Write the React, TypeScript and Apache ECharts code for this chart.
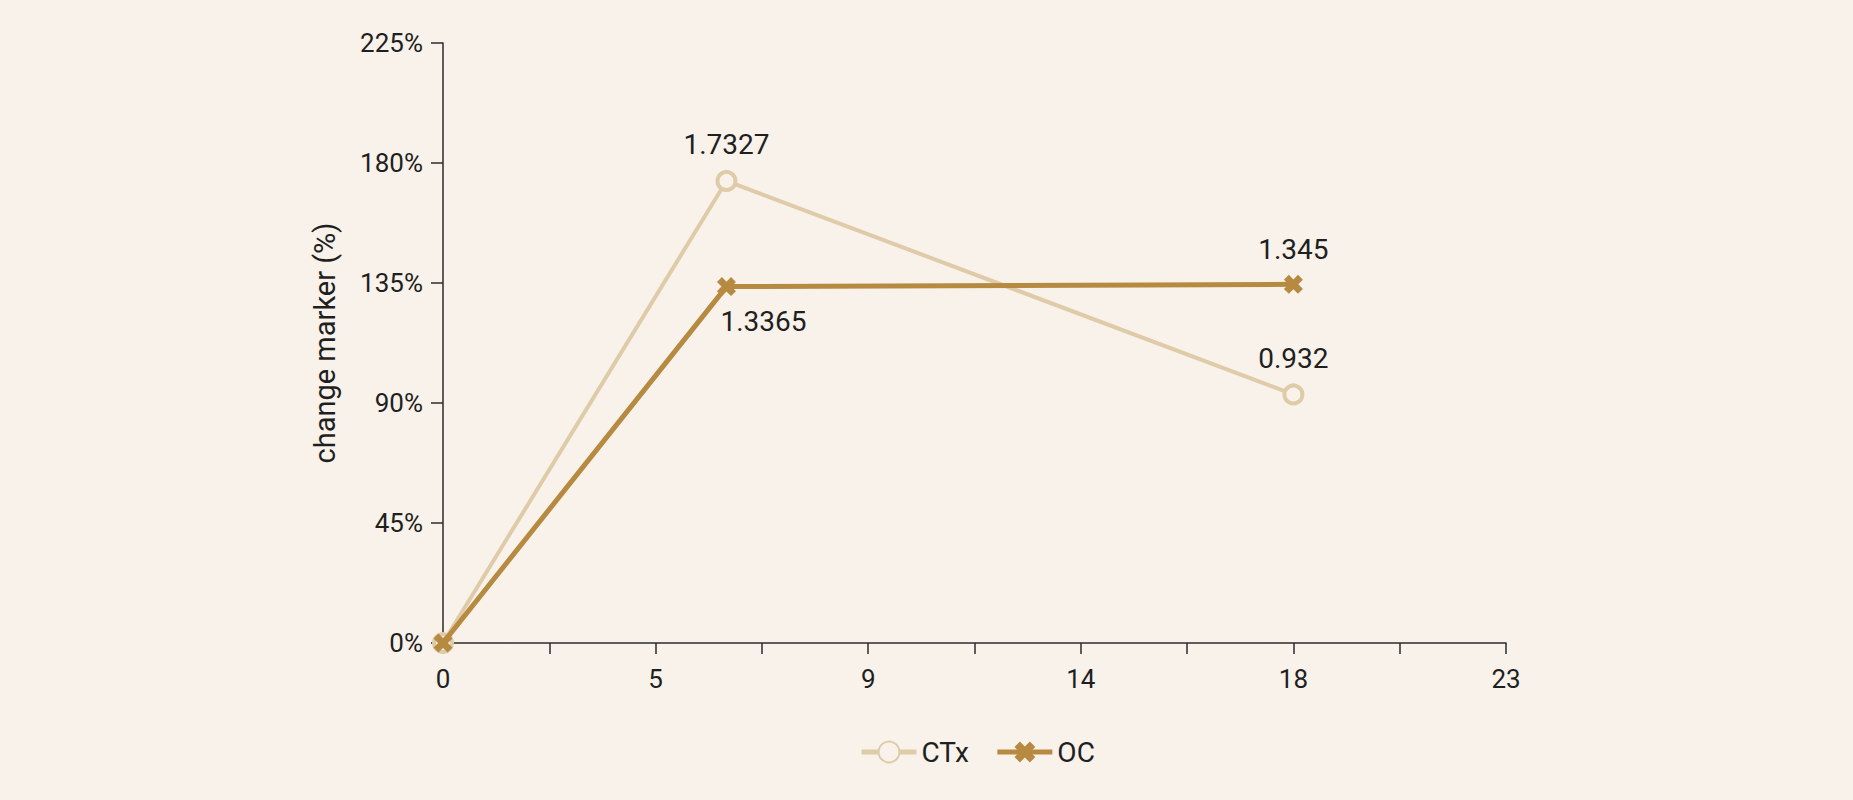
import { useEffect, useRef } from 'react';
import * as echarts from 'echarts';

const weeks = [0, 6, 18];
const ctxValues = [0, 1.7327, 0.932];
const ocValues = [0, 1.3365, 1.345];
const seriesNames = ['CTx', 'OC'];

const BG = '#F8F2EA';
const CTX_COLOR = '#DFCBA8';
const OC_COLOR = '#B68A40';
const TEXT = '#1f1f1f';
const AXIS = '#2b2b2b';

// thick "x" marker
const CROSS = 'path://M2.6,0L5,2.4L7.4,0L10,2.6L7.6,5L10,7.4L7.4,10L5,7.6L2.6,10L0,7.4L2.4,5L0,2.6Z';

export default function App() {
  const chartRef = useRef<HTMLDivElement>(null);

  useEffect(() => {
    if (!chartRef.current) return;
    const chart = echarts.init(chartRef.current, null, { renderer: 'svg' });

    const labelAt = (i: number, pos: 'top' | 'bottom', offset: number[] = [0, 0]) =>
      i === 0
        ? { show: false }
        : { show: true, position: pos, offset, distance: 11 };

    const option: echarts.EChartsOption = {
      animation: false,
      backgroundColor: BG,
      textStyle: { fontFamily: 'Roboto', color: TEXT },
      grid: {
        left: 443,
        right: 347,
        top: 43,
        bottom: 157,
      },
      legend: {
        left: 854,
        top: 733,
        itemWidth: 55,
        itemHeight: 26,
        itemGap: 26,
        lineStyle: { width: 5 },
        textStyle: { fontSize: 28, color: TEXT, fontFamily: 'Roboto' },
        data: seriesNames,
      },
      xAxis: {
        type: 'value',
        min: 0,
        max: 22.5,
        interval: 4.5,
        axisLine: { show: true, onZero: false, lineStyle: { color: AXIS, width: 1.5 } },
        axisTick: { show: true, length: 11, lineStyle: { color: AXIS, width: 1.5 } },
        minorTick: { show: true, splitNumber: 2, length: 11, lineStyle: { color: AXIS, width: 1.5 } },
        splitLine: { show: false },
        axisLabel: {
          fontSize: 26,
          color: TEXT,
          margin: 23,
          formatter: (v: number) => String(Math.round(v)),
        },
      },
      yAxis: {
        type: 'value',
        min: 0,
        max: 2.25,
        interval: 0.45,
        name: 'change marker (%)',
        nameLocation: 'middle',
        nameGap: 104,
        nameTextStyle: { fontSize: 29, color: TEXT, fontFamily: 'Roboto' },
        axisLine: { show: true, lineStyle: { color: AXIS, width: 1.5 } },
        axisTick: { show: true, length: 12, lineStyle: { color: AXIS, width: 1.5 } },
        splitLine: { show: false },
        axisLabel: {
          fontSize: 26,
          color: TEXT,
          margin: 20,
          formatter: (v: number) => `${Math.round(v * 100)}%`,
        },
      },
      series: [
        {
          name: seriesNames[0],
          type: 'line',
          symbol: 'circle',
          symbolSize: 18,
          z: 2,
          lineStyle: { color: CTX_COLOR, width: 4 },
          itemStyle: { color: BG, borderColor: CTX_COLOR, borderWidth: 4 },
          label: { fontSize: 28, color: TEXT, fontFamily: 'Roboto' },
          data: weeks.map((w, i) => ({
            value: [w, ctxValues[i]],
            label: labelAt(i, 'top'),
          })),
        },
        {
          name: seriesNames[1],
          type: 'line',
          symbol: CROSS,
          symbolSize: 19,
          z: 3,
          lineStyle: { color: OC_COLOR, width: 5 },
          itemStyle: { color: OC_COLOR },
          label: { fontSize: 28, color: TEXT, fontFamily: 'Roboto' },
          data: weeks.map((w, i) => ({
            value: [w, ocValues[i]],
            label: i === 1 ? labelAt(i, 'bottom', [37, 0]) : labelAt(i, 'top'),
          })),
        },
      ],
    };

    chart.setOption(option);
    return () => {
      chart.dispose();
    };
  }, []);

  return (
    <div
      ref={chartRef}
      style={{ position: 'fixed', left: 0, top: 0, width: 1853, height: 800, background: BG }}
    />
  );
}
